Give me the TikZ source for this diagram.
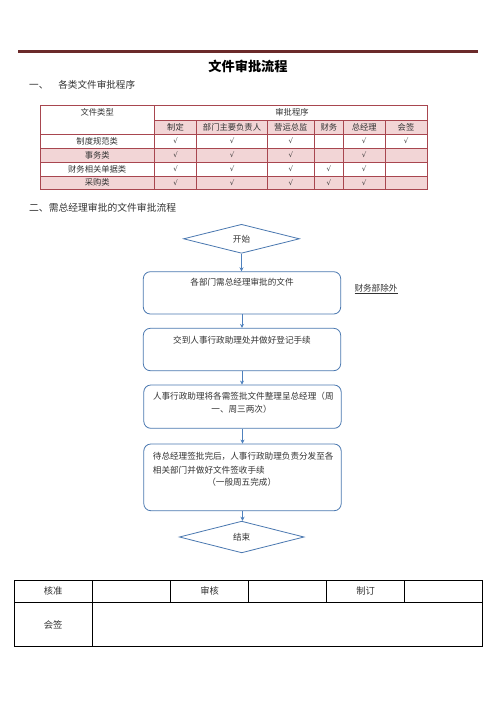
\documentclass[tikz,border=0pt]{standalone}
\usepackage{fontspec}
\setmainfont{Noto Sans CJK SC}
\newfontfamily\ckfont{DejaVu Sans}
\usetikzlibrary{arrows.meta,shapes.geometric}
\definecolor{rulec}{HTML}{6B2A2A}
\definecolor{tbc}{HTML}{A8464F}
\definecolor{pkc}{HTML}{F2D5D6}
\definecolor{fbc}{HTML}{4A78B0}
\definecolor{arc}{HTML}{4F81BD}
\definecolor{txc}{HTML}{333333}
\begin{document}
\begin{tikzpicture}[x=1pt,y=-1pt,
  tcell/.style={font=\fontsize{8.3}{9}\selectfont, text=txc, inner sep=0pt},
  ckcell/.style={font=\ckfont\fontsize{7}{8}\selectfont, text=txc, inner sep=0pt},
  ftext/.style={font=\fontsize{8.6}{10}\selectfont, text=txc, inner sep=0pt},
  fbox/.style={draw=fbc, line width=0.8pt, rounded corners=7pt, minimum width=197.4pt, inner sep=0pt},
  fdia/.style={draw=fbc, line width=0.8pt, diamond, inner sep=0pt},
  farr/.style={draw=arc, line width=0.9pt, -{Stealth[length=4pt,width=4pt]}},
  tline/.style={draw=tbc, line width=0.7pt},
  bline/.style={draw=black, line width=0.8pt},
  btext/.style={font=\fontsize{9.3}{10}\selectfont, text=txc, inner sep=0pt}]
\useasboundingbox[fill=white] (0,0) rectangle (496,702);

% top rule
\draw[rulec, line width=2.6pt] (18,51.3) -- (478,51.3);
\node[font=\fontsize{13.2}{15}\selectfont\bfseries, inner sep=0pt] (title) at (248,66.7) {文件审批流程};
\node[anchor=west, font=\fontsize{9.6}{11}\selectfont, text=txc, inner sep=0pt] (h1) at (29,85) {一、\hspace{10pt}各类文件审批程序};

% approval table
\fill[pkc] (154.3,120) rectangle (427,134);
\fill[pkc] (40,148) rectangle (427,162);
\fill[pkc] (40,176) rectangle (427,189);
\draw[tline] (40,105) rectangle (427,189);
\draw[tline] (154.3,120) -- (427,120);
\foreach \yy in {134,148,162,176} \draw[tline] (40,\yy) -- (427,\yy);
\draw[tline] (154.3,105) -- (154.3,189);
\foreach \xx in {196.7,267.3,314.3,343.3,385} \draw[tline] (\xx,120) -- (\xx,189);

\node[tcell] (hA) at (97.2,112.7) {文件类型};
\node[tcell] (hB) at (292,112.7) {审批程序};
\foreach \xx/\tt/\nn in {175.5/制定/1,232/部门主要负责人/2,290.8/营运总监/3,328.8/财务/4,364.2/总经理/5,406/会签/6}
  \node[tcell] (hc\nn) at (\xx,127) {\tt};
\foreach \yy/\tt/\nn in {141/制度规范类/1,155/事务类/2,169/财务相关单据类/3,182.5/采购类/4}
  \node[tcell] (rn\nn) at (97.2,\yy) {\tt};
% check marks
\foreach \yy/\nn in {141/1,155/2,169/3,182.5/4}{
  \node[ckcell] (ck\nn a) at (175.5,\yy) {√};
  \node[ckcell] (ck\nn b) at (232,\yy) {√};
  \node[ckcell] (ck\nn c) at (290.8,\yy) {√};
  \node[ckcell] (ck\nn e) at (364.2,\yy) {√};
}
\node[ckcell] (ck3d) at (328.8,169) {√};
\node[ckcell] (ck4d) at (328.8,182.5) {√};
\node[ckcell] (ck1f) at (406,141) {√};

\node[anchor=west, font=\fontsize{9.8}{11}\selectfont, text=txc, inner sep=0pt] (h2) at (29,208) {二、需总经理审批的文件审批流程};

% flowchart
\node[fdia, minimum width=116pt, minimum height=29pt] (start) at (241.5,238.8) {};
\node[ftext] (startT) at (start) {开始};
\node[fbox, minimum height=42.3pt] (b1) at (242,292.85) {};
\node[ftext] (b1T) at (242,282.7) {各部门需总经理审批的文件};
\node[font=\fontsize{8.6}{10}\selectfont, text=txc, inner sep=0pt] (note) at (376,289) {\underline{财务部除外}};
\node[fbox, minimum height=42.4pt] (b2) at (242,349.5) {};
\node[ftext] (b2T) at (242,340) {交到人事行政助理处并做好登记手续};
\node[fbox, minimum height=43.3pt] (b3) at (242.5,406.65) {};
\node[ftext] (b3Ta) at (243.3,396) {人事行政助理将各需签批文件整理呈总经理（周};
\node[ftext] (b3Tb) at (241.5,409.3) {一、周三两次）};
\node[fbox, minimum height=66.7pt] (b4) at (242.5,477.35) {};
\node[ftext, anchor=west] (b4Ta) at (152.7,456.7) {待总经理签批完后，人事行政助理负责分发至各};
\node[ftext, anchor=west] (b4Tb) at (152.7,470) {相关部门并做好文件签收手续};
\node[ftext] (b4Tc) at (241.7,482.7) {（一般周五完成）};
\node[fdia, minimum width=124.7pt, minimum height=31.7pt] (end) at (241.7,537) {};
\node[ftext] (endT) at (end) {结束};

\draw[farr] (start.south) -- (start.south |- b1.north);
\draw[farr] (b1.south) -- (b2.north);
\draw[farr] (b2.south) -- (b2.south |- b3.north);
\draw[farr] (b3.south) -- (b3.south |- b4.north);
\draw[farr] (b4.south) -- (b4.south |- end.north);

% bottom sign table
\draw[bline] (14,580) rectangle (482.7,646.7);
\draw[bline] (14,602.3) -- (482.7,602.3);
\draw[bline] (92.3,580) -- (92.3,646.7);
\foreach \xx in {170.7,248.7,326.7,404.7} \draw[bline] (\xx,580) -- (\xx,602.3);
\node[btext] (s1) at (53.2,591.2) {核准};
\node[btext] (s2) at (209.7,591.2) {审核};
\node[btext] (s3) at (365.7,591.2) {制订};
\node[btext] (s4) at (53.2,624.5) {会签};
\end{tikzpicture}
\end{document}
